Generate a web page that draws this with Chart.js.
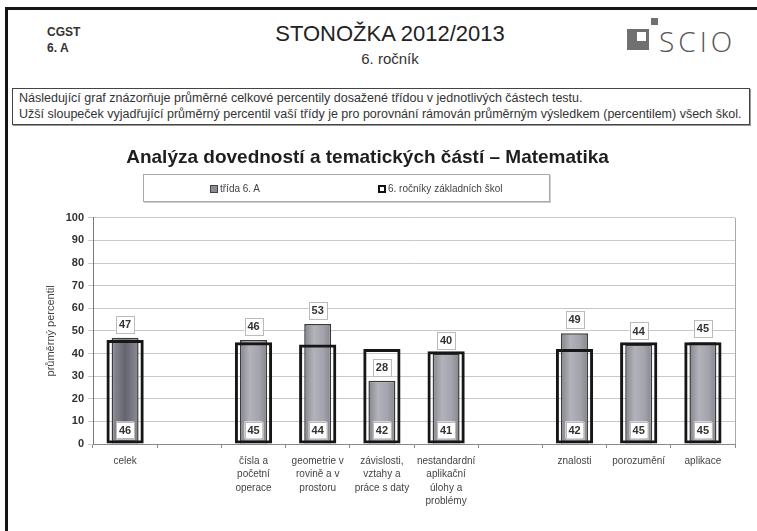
<!DOCTYPE html>
<html lang="cs">
<head>
<meta charset="utf-8">
<script src="https://cdn.jsdelivr.net/npm/chart.js@4.4.1/dist/chart.umd.min.js"></script>
<style>
  html, body { margin: 0; padding: 0; background: #fff; }
  body { width: 757px; height: 531px; position: relative; overflow: hidden; font-family: "Liberation Sans", Arial, sans-serif; }
  .abs { position: absolute; }
  #frame { left: 5px; top: 7px; width: 800px; height: 600px; border-left: 3px solid #151515; border-top: 3px solid #151515; }
  #cgst { left: 47px; top: 24px; font-size: 12px; font-weight: bold; color: #333; line-height: 16px; }
  #mainTitle { left: 240px; width: 300px; top: 21px; text-align: center; font-size: 22px; color: #222; }
  #subTitle { left: 240px; width: 300px; top: 50px; text-align: center; font-size: 15px; color: #333; }
  #logoSq { left: 627px; top: 29px; width: 22px; height: 21px; background: #707070; }
  #logoIn { left: 637px; top: 32px; width: 9px; height: 9px; background: #fff; }
  #logoDot { left: 651px; top: 18px; width: 7px; height: 7px; background: #707070; }
  #logoTxt { left: 659px; top: 22px; font-family: "Open Sans", "DejaVu Sans", sans-serif; font-weight: 300; font-size: 28px; color: #555; letter-spacing: 4px; }
  #note { left: 12px; top: 88px; width: 730px; height: 34px; border: 1px solid #444; box-shadow: 1px 1px 0 #999; padding: 1px 0 0 6px; font-size: 12.5px; line-height: 16px; color: #333; white-space: nowrap; overflow: hidden; }
  #legend { left: 143px; top: 174px; width: 405px; height: 26px; border: 1px solid #aaa; box-shadow: 1px 1px 0 #ccc; font-size: 10px; color: #444; }
  .lg { position: absolute; top: 8px; height: 12px; line-height: 12px; white-space: pre; }
  .sw { display: inline-block; width: 8px; height: 8px; vertical-align: -1px; margin-right: 2px; box-sizing: border-box; }
  #chartWrap { left: 0; top: 132px; width: 757px; height: 399px; }
</style>
</head>
<body>
<div id="frame" class="abs"></div>
<div id="cgst" class="abs">CGST<br>6. A</div>
<div id="mainTitle" class="abs">STONOŽKA 2012/2013</div>
<div id="subTitle" class="abs">6. ročník</div>
<div id="logoSq" class="abs"></div>
<div id="logoIn" class="abs"></div>
<div id="logoDot" class="abs"></div>
<div id="logoTxt" class="abs">SCIO</div>
<div id="note" class="abs">Následující graf znázorňuje průměrné celkové percentily dosažené třídou v jednotlivých částech testu.<br>Užší sloupeček vyjadřující průměrný percentil vaší třídy je pro porovnání rámován průměrným výsledkem (percentilem) všech škol.</div>

<div id="chartWrap" class="abs"><canvas id="c" width="757" height="399"></canvas></div>

<div id="legend" class="abs">
  <div class="lg" style="left:66px;"><span class="sw" style="background:#8c8c94;border:1px solid #444;"></span><span id="lg1"></span></div>
  <div class="lg" style="left:234px;"><span class="sw" style="background:#fff;border:2px solid #111;"></span><span id="lg2"></span></div>
</div>

<script>
// ---- data ----
const categories = [
  ['celek'],
  '',
  ['čísla a', 'početní', 'operace'],
  ['geometrie v', 'rovině a v', 'prostoru'],
  ['závislosti,', 'vztahy a', 'práce s daty'],
  ['nestandardní', 'aplikační', 'úlohy a', 'problémy'],
  '',
  ['znalosti'],
  ['porozumění'],
  ['aplikace']
];
const seriesNames = ['třída 6. A', '6. ročníky základních škol'];
const classValues  = [47, null, 46, 53, 28, 40, null, 49, 44, 45];
const schoolValues = [46, null, 45, 44, 42, 41, null, 42, 45, 45];
const yMin = 0, yMax = 100, yStep = 10;
const chartTitle = 'Analýza dovedností a tematických částí – Matematika';
const yTitle = 'průměrný percentil';

document.getElementById('lg1').textContent = seriesNames[0];
document.getElementById('lg2').textContent = seriesNames[1];

Chart.defaults.font.family = '"Liberation Sans", Arial, sans-serif';

const INNER = 0.42, OUTER = 0.58;

function innerFill(ctx) {
  const chart = ctx.chart;
  const area = chart.chartArea;
  if (!area) return '#999';
  const xs = chart.scales.x;
  const slot = (area.right - area.left) / categories.length;
  const cx = xs.getPixelForValue(ctx.dataIndex);
  const w = slot * INNER / 2;
  const g = chart.ctx.createLinearGradient(cx - w, 0, cx + w, 0);
  if (ctx.dataIndex === 0) {
    g.addColorStop(0, '#8e8e98');
    g.addColorStop(0.5, '#64646e');
    g.addColorStop(1, '#8e8e98');
  } else {
    g.addColorStop(0, '#85858f');
    g.addColorStop(0.35, '#b2b2ba');
    g.addColorStop(0.7, '#a4a4ac');
    g.addColorStop(1, '#85858f');
  }
  return g;
}

const labelPlugin = {
  id: 'valueBoxes',
  afterDatasetsDraw(chart) {
    const c = chart.ctx;
    const xs = chart.scales.x, ys = chart.scales.y;
    c.save();
    c.font = 'bold 11px "Liberation Sans", Arial, sans-serif';
    c.textAlign = 'center';
    c.textBaseline = 'middle';
    const box = (x, y, t) => {
      const w = 18, h = 17;
      c.fillStyle = '#fff';
      c.fillRect(x - w / 2, y - h / 2, w, h);
      c.strokeStyle = '#bbb';
      c.lineWidth = 1;
      c.strokeRect(Math.round(x - w / 2) + 0.5, Math.round(y - h / 2) + 0.5, w, h);
      c.fillStyle = '#333';
      c.fillText(String(t), x, y + 0.5);
    };
    categories.forEach((_, i) => {
      const x = xs.getPixelForValue(i);
      if (classValues[i] != null) box(x, ys.getPixelForValue(classValues[i]) - 13.5, classValues[i]);
      if (schoolValues[i] != null) box(x, ys.getPixelForValue(0) - 14, schoolValues[i]);
    });
    c.restore();
  },
  afterDraw(chart) {
    const a = chart.chartArea, c = chart.ctx;
    c.save();
    c.strokeStyle = '#aaa';
    c.lineWidth = 1;
    c.beginPath();
    c.moveTo(Math.round(a.right) + 0.5, a.top);
    c.lineTo(Math.round(a.right) + 0.5, a.bottom);
    c.stroke();
    c.restore();
  }
};

new Chart(document.getElementById('c'), {
  type: 'bar',
  data: {
    labels: categories,
    datasets: [
      {
        label: seriesNames[0],
        data: classValues,
        backgroundColor: innerFill,
        borderColor: '#3a3a3a',
        borderWidth: 1.5,
        grouped: false,
        categoryPercentage: 1,
        barPercentage: INNER,
        order: 2
      },
      {
        label: seriesNames[1],
        data: schoolValues,
        backgroundColor: 'rgba(255,255,255,0)',
        borderColor: '#161616',
        borderWidth: 3,
        borderSkipped: false,
        grouped: false,
        categoryPercentage: 1,
        barPercentage: OUTER,
        order: 1
      }
    ]
  },
  options: {
    responsive: false,
    animation: false,
    layout: { padding: { left: 0, right: 22, top: 0, bottom: 0 } },
    plugins: {
      legend: { display: false },
      tooltip: { enabled: false },
      title: {
        display: true,
        text: chartTitle,
        color: '#1e1e1e',
        font: { size: 19, weight: 'bold' },
        padding: { top: 14, bottom: 49 }
      }
    },
    scales: {
      x: {
        afterFit(s) { s.height = 87; },
        grid: { display: true, drawOnChartArea: false, drawTicks: true, tickLength: 4, color: '#888', offset: true },
        border: { display: true, color: '#888' },
        ticks: { color: '#444', font: { size: 10, lineHeight: 1.35 }, padding: 6, maxRotation: 0, autoSkip: false }
      },
      y: {
        min: yMin,
        max: yMax,
        afterFit(s) { s.width = 93; },
        ticks: { stepSize: yStep, color: '#333', font: { size: 11, weight: 'bold' }, padding: 4 },
        grid: { color: '#c8c8c8', tickLength: 5 },
        border: { display: true, color: '#777' },
        title: { display: true, text: yTitle, color: '#444', font: { size: 11 }, padding: { top: 44, bottom: 0 } }
      }
    }
  },
  plugins: [labelPlugin]
});
</script>
</body>
</html>
